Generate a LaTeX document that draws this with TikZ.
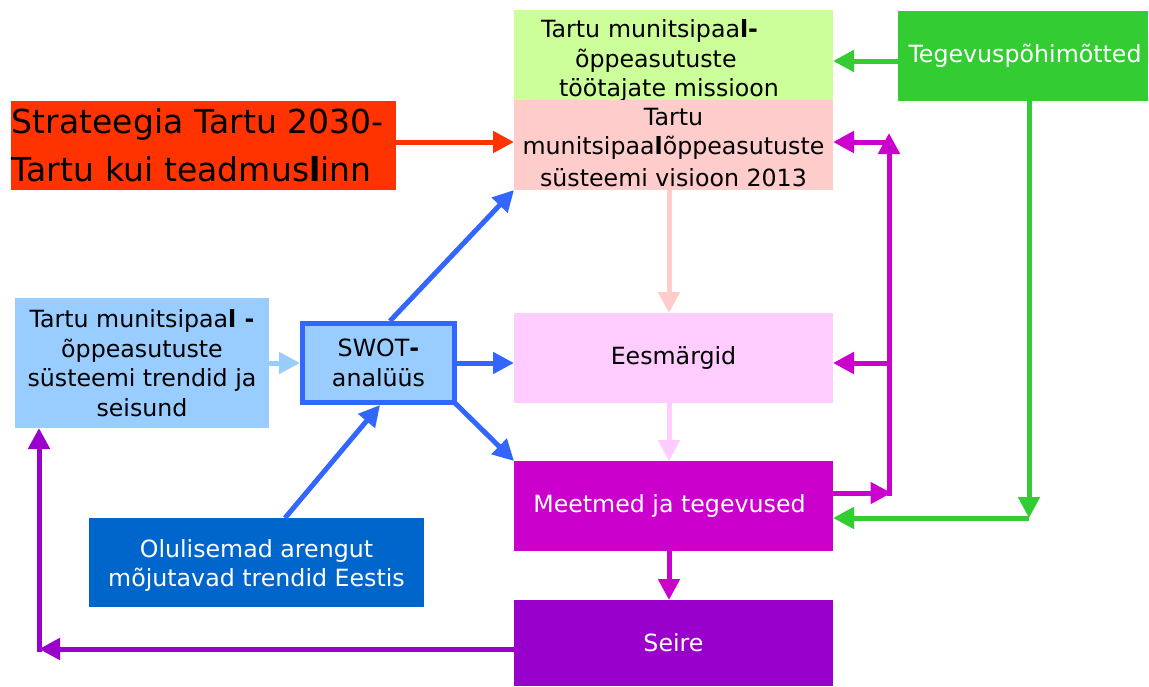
\documentclass[tikz,border=0pt]{standalone}
\usepackage{fontspec}
\setmainfont{DejaVu Sans}
\usetikzlibrary{arrows.meta,calc}
\definecolor{cMission}{RGB}{204,255,153}
\definecolor{cVision}{RGB}{255,204,204}
\definecolor{cTegev}{RGB}{51,204,51}
\definecolor{cStrat}{RGB}{255,51,0}
\definecolor{cTrend}{RGB}{153,204,255}
\definecolor{cBlue}{RGB}{51,102,255}
\definecolor{cEesm}{RGB}{255,204,255}
\definecolor{cMeet}{RGB}{204,0,204}
\definecolor{cOlul}{RGB}{0,102,204}
\definecolor{cSeire}{RGB}{153,0,204}
\begin{document}
\begin{tikzpicture}[x=1pt,y=-1pt,
  box/.style={rectangle,inner sep=0pt,outer sep=0pt,align=center,
    font=\fontsize{23.7}{29.5}\selectfont},
  arr/.style={line width=5pt,-{Triangle[length=21pt,width=21pt]}},
  plain/.style={line width=5pt}]
\useasboundingbox (0,0) rectangle (1149,686);
\node[box,fill=cMission,minimum width=319pt,minimum height=89pt,text width=319pt,align=left] (mission) at (673.5,55.5)
  {\rule{0pt}{28pt}\hspace*{27pt}Tartu munitsipaa\textbf{l-}\\ \hspace*{61pt}õppeasutuste\\ \hspace*{45pt}töötajate missioon};
\node[box,fill=cVision,minimum width=319pt,minimum height=90pt] (vision) at (673.5,145)
  {\rule{0pt}{22pt}Tartu\\ munitsipaa\textbf{l}õppeasutuste\\[2pt] süsteemi visioon 2013};
\node[box,fill=cTegev,text=white,minimum width=250pt,minimum height=90pt] (tegev) at (1023,56)
  {\hspace*{4pt}Tegevuspõhimõtted};
\node[box,fill=cStrat,minimum width=385pt,minimum height=89pt,text width=383pt,align=left,
  font=\fontsize{33}{48}\selectfont] (strat) at (203.5,145.5)
  {Strateegia Tartu 2030-\\Tartu kui teadmus\textbf{l}inn};
\node[box,fill=cTrend,minimum width=254pt,minimum height=130pt] (trend) at (142,363)
  {Tartu munitsipaa\textbf{l -}\\õppeasutuste\\süsteemi trendid ja\\seisund};
\node[box,fill=cTrend,draw=cBlue,line width=5pt,minimum width=152pt,minimum height=79pt] (swot) at (378.5,363)
  {SWOT\textbf{-}\\analüüs};
\node[box,fill=cEesm,minimum width=319pt,minimum height=90pt] (eesm) at (673.5,358)
  {Eesmärgid};
\node[box,fill=cMeet,text=white,minimum width=319pt,minimum height=90pt] (meet) at (673.5,506)
  {Meetmed ja tegevused\hspace*{8pt}};
\node[box,fill=cOlul,text=white,minimum width=335pt,minimum height=89pt] (olul) at (256.5,562.5)
  {\rule{0pt}{24pt}Olulisemad arengut\\mõjutavad trendid Eestis};
\node[box,fill=cSeire,text=white,minimum width=319pt,minimum height=86pt] (seire) at (673.5,643)
  {Seire};
% coordinates
\coordinate (gcorner) at (1029,518);
\coordinate (mb) at (889,493);
\coordinate (mt) at (889,133);
\coordinate (mv) at (889,142);
\coordinate (me) at (889,363);
\coordinate (pc) at (39,649);
% arrows
\draw[arr,draw=cStrat,fill=cStrat] (strat.east |- mv) -- (vision.west |- mv);
\draw[arr,draw=cTegev,fill=cTegev] (tegev.west |- 0,61) -- (mission.east |- 0,61);
\draw[arr,draw=cTegev,fill=cTegev] (tegev.south -| gcorner) -- (gcorner);
\draw[arr,draw=cTegev,fill=cTegev] (gcorner) -- (gcorner -| meet.east);
\draw[arr,draw=cMeet,fill=cMeet] (meet.east |- mb) -- ($(mb)+(2.5,0)$);
\draw[plain,draw=cMeet] ($(mb)+(0,2.5)$) -- (mv);
\draw[arr,draw=cMeet,fill=cMeet] (mv) -- (mt);
\draw[arr,draw=cMeet,fill=cMeet] ($(mv)+(2.5,0)$) -- (mv -| vision.east);
\draw[arr,draw=cMeet,fill=cMeet] (me) -- (me -| eesm.east);
\draw[arr,draw=cVision,fill=cVision] (vision.south -| 669,0) -- (eesm.north -| 669,0);
\draw[arr,draw=cEesm,fill=cEesm] (eesm.south -| 669,0) -- (meet.north -| 669,0);
\draw[arr,draw=cMeet,fill=cMeet] (meet.south -| 669,0) -- (seire.north -| 669,0);
\draw[arr,draw=cSeire,fill=cSeire] (seire.west |- pc) -- (pc);
\draw[arr,draw=cSeire,fill=cSeire] ($(pc)+(0,2.5)$) -- (pc |- trend.south);
\draw[arr,draw=cTrend,fill=cTrend] (trend.east) -- ($(swot.west)+(-2.5,0)$);
\draw[arr,draw=cBlue,fill=cBlue] ($(swot.north)+(11.5,-2.5)$) -- (vision.south west);
\draw[arr,draw=cBlue,fill=cBlue] ($(swot.east)+(2.5,0)$) -- (swot.east -| eesm.west);
\draw[arr,draw=cBlue,fill=cBlue] ($(swot.south east)+(1,1)$) -- (meet.north west);
\draw[arr,draw=cBlue,fill=cBlue] ($(olul.north)+(28.5,0)$) -- ($(swot.south)+(1.5,2.5)$);
\end{tikzpicture}
\end{document}
